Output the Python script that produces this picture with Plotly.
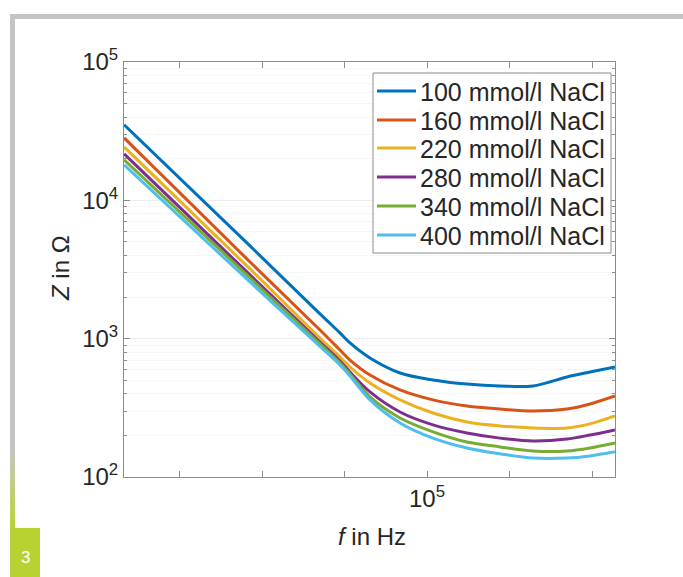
import plotly.graph_objects as go

# ---------------- data ----------------
freq_hz = [1460, 8460, 22460, 29700, 34150, 45130, 68620, 108700, 174700,
           276900, 438900, 705400, 972500, 1378000]
z_100 = [35100, 4680, 1509, 1100, 931, 725, 565, 503, 470, 455, 455, 529, 574, 624]
z_160 = [28260, 3585, 1156, 828, 701, 546, 426, 361, 326, 310, 300, 310, 337, 385]
z_220 = [24330, 3192, 1012, 737, 624, 478, 361, 290, 250, 234, 226, 226, 242, 276]
z_280 = [21650, 2888, 946, 690, 574, 412, 295, 238, 208, 191, 182, 188, 201, 219]
z_340 = [19600, 2747, 916, 667, 556, 379, 267, 212, 179, 165, 154, 154, 162, 176]
z_400 = [18030, 2570, 878, 645, 537, 361, 246, 191, 162, 147, 137, 137, 142, 152]

series_names = ["100 mmol/l NaCl", "160 mmol/l NaCl", "220 mmol/l NaCl",
                "280 mmol/l NaCl", "340 mmol/l NaCl", "400 mmol/l NaCl"]
series_values = [z_100, z_160, z_220, z_280, z_340, z_400]
series_colors = ["#0072BD", "#D95319", "#EDB120", "#7E2F8E", "#77AC30", "#4DBEEE"]

x_tickvals = [10 ** 3.5, 1e4, 10 ** 4.5, 1e5, 10 ** 5.5, 1e6]
x_ticktext = ["", "", "", "10<sup>5</sup>", "", ""]
y_tickvals = [1e2, 1e3, 1e4, 1e5]
y_ticktext = ["10<sup>2</sup>", "10<sup>3</sup>", "10<sup>4</sup>", "10<sup>5</sup>"]
y_minor = [m * 10 ** e for e in (2, 3, 4) for m in range(2, 10)]

FONT = "Liberation Sans, Arial, sans-serif"
TXT = "#262626"
AX = "#8c8c8c"

fig = go.Figure()
for name, vals, col in zip(series_names, series_values, series_colors):
    fig.add_trace(go.Scatter(x=freq_hz, y=vals, name=name, mode="lines", showlegend=False,
                             line=dict(color=col, width=3, shape="spline", smoothing=0.9)))

# plot area in pixels: left 124, right 615, top 62, bottom 477
L, R, T, B = 124, 615, 62, 477
W, H = R - L, B - T


def px(x):
    return (x - L) / W


def py(y):
    return (B - y) / H


shapes = []
# gray frame (top and left)
shapes.append(dict(type="rect", xref="paper", yref="paper", x0=px(10), x1=px(683),
                   y0=py(19), y1=py(14), fillcolor="#c4c4c4", line=dict(width=0), layer="below"))
shapes.append(dict(type="rect", xref="paper", yref="paper", x0=px(10), x1=px(15),
                   y0=py(450), y1=py(14), fillcolor="#c4c4c4", line=dict(width=0), layer="below"))
# gradient gray -> green on the left bar
grad = ["#c4c5bc", "#c3c8ad", "#c2cb9c", "#c0cd88", "#bfcf73", "#bdd05f", "#bcd14c", "#bad23c"]
for i, c in enumerate(grad):
    y0 = 450 + i * 10
    shapes.append(dict(type="rect", xref="paper", yref="paper", x0=px(10), x1=px(15),
                       y0=py(y0 + 10), y1=py(y0), fillcolor=c, line=dict(width=0), layer="below"))
shapes.append(dict(type="rect", xref="paper", yref="paper", x0=px(10), x1=px(15),
                   y0=py(577), y1=py(528), fillcolor="#b8d133", line=dict(width=0), layer="below"))
# green number box
shapes.append(dict(type="rect", xref="paper", yref="paper", x0=px(10), x1=px(40),
                   y0=py(577), y1=py(528), fillcolor="#b8d133", line=dict(width=0), layer="below"))

annotations = [
    dict(text="3", xref="paper", yref="paper", x=px(25), y=py(557), showarrow=False,
         font=dict(family=FONT, size=17, color="white"), xanchor="center", yanchor="middle"),
    dict(text="<i>f</i> in Hz", xref="paper", yref="paper", x=px(372), y=py(536), showarrow=False,
         font=dict(family=FONT, size=24, color=TXT), xanchor="center", yanchor="middle"),
    dict(text="<i>Z</i> in Ω", xref="paper", yref="paper", x=px(60), y=py(268), showarrow=False,
         textangle=-90, font=dict(family=FONT, size=24, color=TXT), xanchor="center", yanchor="middle"),
]

# legend drawn as a boxed key (box, line samples, labels)
LEG_L, LEG_R, LEG_T, LEG_B = 373, 611, 73, 253
row_y = [91, 120, 148, 177, 206, 235]
shapes.append(dict(type="rect", xref="paper", yref="paper", x0=px(LEG_L), x1=px(LEG_R),
                   y0=py(LEG_B), y1=py(LEG_T), fillcolor="white",
                   line=dict(color=AX, width=1), layer="above"))
for yy, name, col in zip(row_y, series_names, series_colors):
    shapes.append(dict(type="line", xref="paper", yref="paper", x0=px(377), x1=px(416),
                       y0=py(yy), y1=py(yy), line=dict(color=col, width=3), layer="above"))
    annotations.append(dict(text=name, xref="paper", yref="paper", x=px(418), y=py(yy + 1),
                            showarrow=False, xanchor="left", yanchor="middle",
                            font=dict(family=FONT, size=25, color=TXT)))

fig.update_layout(
    width=683, height=577,
    margin=dict(l=L, r=683 - R, t=T, b=577 - B),
    paper_bgcolor="white", plot_bgcolor="white",
    font=dict(family=FONT, size=24, color=TXT),
    shapes=shapes, annotations=annotations,
    showlegend=False,
)
fig.update_xaxes(type="log", range=[3.1636, 6.1394],
                 tickmode="array", tickvals=x_tickvals, ticktext=x_ticktext,
                 ticks="inside", ticklen=6, tickcolor=AX,
                 showline=True, linecolor=AX, linewidth=1, mirror="ticks",
                 showgrid=False, zeroline=False,
                 tickfont=dict(family=FONT, size=24, color=TXT))
fig.update_yaxes(type="log", range=[2, 5],
                 tickmode="array", tickvals=y_tickvals, ticktext=y_ticktext,
                 ticks="inside", ticklen=6, tickcolor=AX,
                 showline=True, linecolor=AX, linewidth=1, mirror="ticks",
                 showgrid=True, gridcolor="#ececec",
                 minor=dict(tickvals=y_minor, ticks="inside", ticklen=3, tickcolor=AX,
                            showgrid=True, gridcolor="#f5f5f5"),
                 zeroline=False,
                 tickfont=dict(family=FONT, size=24, color=TXT))

fig.write_html("out.html", config={"displayModeBar": False},
               post_script="document.body.style.margin='0px';document.body.style.overflow='hidden';")
